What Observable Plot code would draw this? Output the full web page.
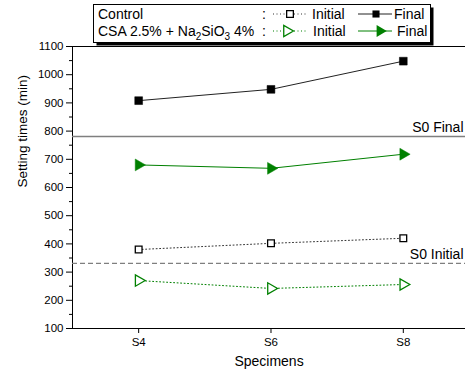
<!DOCTYPE html>
<html><head><meta charset="utf-8">
<script src="https://cdn.jsdelivr.net/npm/d3@7"></script>
<script src="https://cdn.jsdelivr.net/npm/@observablehq/plot@0.6"></script>
<style>
body{margin:0;background:#fff;}
#wrap{position:relative;width:465px;height:377px;overflow:hidden;font-family:"Liberation Sans",Arial,sans-serif;}
#wrap svg{position:absolute;left:0;top:0;}
</style>
</head><body><div id="wrap"></div>
<script>
const specimens = ["S4", "S6", "S8"];
const controlInitial = [380, 402, 420];
const controlFinal = [908, 948, 1048];
const csaInitial = [270, 242, 256];
const csaFinal = [680, 668, 718];
const s0Initial = 331;
const s0Final = 781;
const yMajorTicks = [100, 200, 300, 400, 500, 600, 700, 800, 900, 1000, 1100];
const yMinorTicks = [150, 250, 350, 450, 550, 650, 750, 850, 950, 1050];

const rows = (vals, series) => vals.map((v, i) => ({i, spec: specimens[i], v, series}));
const cI = rows(controlInitial, "cI");
const cF = rows(controlFinal, "cF");
const gI = rows(csaInitial, "gI");
const gF = rows(csaFinal, "gF");
const green = "#008000";

const chart = Plot.plot({
  width: 465, height: 377,
  marginLeft: 72, marginRight: 0, marginTop: 46, marginBottom: 49,
  style: {fontFamily: '"Liberation Sans", Arial, sans-serif', fontSize: "12px", color: "#000", overflow: "visible"},
  x: {type: "linear", domain: [-0.5, 2.47], axis: null},
  y: {domain: [100, 1100], axis: null},
  marks: [
    // frame lines
    Plot.ruleY([1100, 100], {stroke: "#000", strokeWidth: 1}),
    Plot.ruleX([-0.5], {stroke: "#000", strokeWidth: 1}),
    // axes
    Plot.axisY({ticks: yMajorTicks, tickSize: 6, tickPadding: 3, fontSize: 11.5, tickFormat: d => String(d), label: null, stroke: "#000"}),
    Plot.axisY({ticks: yMinorTicks, tickSize: 3, tickFormat: () => "", label: null, stroke: "#000"}),
    Plot.axisX({ticks: [0, 1, 2], tickFormat: i => specimens[i], tickSize: 5, tickPadding: 4, fontSize: 11.5, label: null, stroke: "#000"}),
    Plot.text(["Setting times (min)"], {frameAnchor: "left", dx: -50, rotate: -90, fontSize: 13.5}),
    Plot.text(["Specimens"], {frameAnchor: "bottom", dy: 37, fontSize: 14}),
    // reference lines
    Plot.ruleY([s0Final], {stroke: "#7f7f7f", strokeWidth: 1.5}),
    Plot.ruleY([s0Initial], {stroke: "#7f7f7f", strokeWidth: 1.2, strokeDasharray: "5,3"}),
    Plot.text(["S0 Final"], {y: s0Final, frameAnchor: "right", textAnchor: "end", dx: -2, dy: -9, fontSize: 14}),
    Plot.text(["S0 Initial"], {y: s0Initial, frameAnchor: "right", textAnchor: "end", dx: -2, dy: -9, fontSize: 14}),
    // series
    Plot.line(cI, {x: "i", y: "v", stroke: "#333", strokeWidth: 1, strokeDasharray: "1,2.5"}),
    Plot.line(cF, {x: "i", y: "v", stroke: "#222", strokeWidth: 1}),
    Plot.line(gI, {x: "i", y: "v", stroke: green, strokeWidth: 1, strokeDasharray: "1,2.5"}),
    Plot.line(gF, {x: "i", y: "v", stroke: green, strokeWidth: 1}),
    Plot.dot(cI, {x: "i", y: "v", symbol: "square", r: 3.8, fill: "#fff", stroke: "#000", strokeWidth: 1.3}),
    Plot.dot(cF, {x: "i", y: "v", symbol: "square", r: 4.4, fill: "#000", stroke: "#000", strokeWidth: 0.5}),
    Plot.dot(gI, {x: "i", y: "v", symbol: "triangle", r: 4.2, rotate: 90, fill: "#fff", stroke: green, strokeWidth: 1.3}),
    Plot.dot(gF, {x: "i", y: "v", symbol: "triangle", r: 4.4, rotate: 90, fill: green, stroke: green, strokeWidth: 0.5})
  ]
});
document.getElementById("wrap").appendChild(chart);

// legend overlay
const legend = d3.select("#wrap").append("svg")
  .attr("width", 465).attr("height", 50)
  .style("font-family", '"Liberation Sans", Arial, sans-serif')
  .style("font-size", "14px");
legend.append("rect").attr("x", 96.5).attr("y", 7.5).attr("width", 337).attr("height", 38).attr("fill", "#000");
legend.append("rect").attr("x", 93.5).attr("y", 4.5).attr("width", 337).attr("height", 38)
  .attr("fill", "#fff").attr("stroke", "#000").attr("stroke-width", 1);

const r1 = 19, r2 = 36;
legend.append("text").attr("x", 98).attr("y", r1).text("Control");
const t2 = legend.append("text").attr("x", 98).attr("y", r2);
t2.append("tspan").text("CSA 2.5% + Na");
t2.append("tspan").attr("dy", 4).style("font-size", "10px").text("2");
t2.append("tspan").attr("dy", -4).text("SiO");
t2.append("tspan").attr("dy", 4).style("font-size", "10px").text("3");
t2.append("tspan").attr("dy", -4).text(" 4%");
legend.append("text").attr("x", 262).attr("y", r1).text(":");
legend.append("text").attr("x", 262).attr("y", r2).text(":");

const sym = (type, size) => d3.symbol().type(type).size(size)();
// row 1
legend.append("line").attr("x1", 273).attr("x2", 307).attr("y1", r1 - 5).attr("y2", r1 - 5)
  .attr("stroke", "#333").attr("stroke-dasharray", "1,2.5");
legend.append("path").attr("d", sym(d3.symbolSquare, 45)).attr("transform", `translate(290,${r1 - 5})`)
  .attr("fill", "#fff").attr("stroke", "#000").attr("stroke-width", 1.3);
legend.append("text").attr("x", 312).attr("y", r1).text("Initial");
legend.append("line").attr("x1", 358).attr("x2", 392).attr("y1", r1 - 5).attr("y2", r1 - 5).attr("stroke", "#222");
legend.append("path").attr("d", sym(d3.symbolSquare, 50)).attr("transform", `translate(376,${r1 - 5})`).attr("fill", "#000");
legend.append("text").attr("x", 394).attr("y", r1).text("Final");
// row 2
legend.append("line").attr("x1", 273).attr("x2", 307).attr("y1", r2 - 5).attr("y2", r2 - 5)
  .attr("stroke", green).attr("stroke-dasharray", "1,2.5");
legend.append("path").attr("d", sym(d3.symbolTriangle, 55)).attr("transform", `translate(287,${r2 - 5}) rotate(90)`)
  .attr("fill", "#fff").attr("stroke", green).attr("stroke-width", 1.3);
legend.append("text").attr("x", 313).attr("y", r2).text("Initial");
legend.append("line").attr("x1", 358).attr("x2", 392).attr("y1", r2 - 5).attr("y2", r2 - 5).attr("stroke", green);
legend.append("path").attr("d", sym(d3.symbolTriangle, 60)).attr("transform", `translate(380,${r2 - 5}) rotate(90)`).attr("fill", green);
legend.append("text").attr("x", 397).attr("y", r2).text("Final");
</script>
</body></html>
